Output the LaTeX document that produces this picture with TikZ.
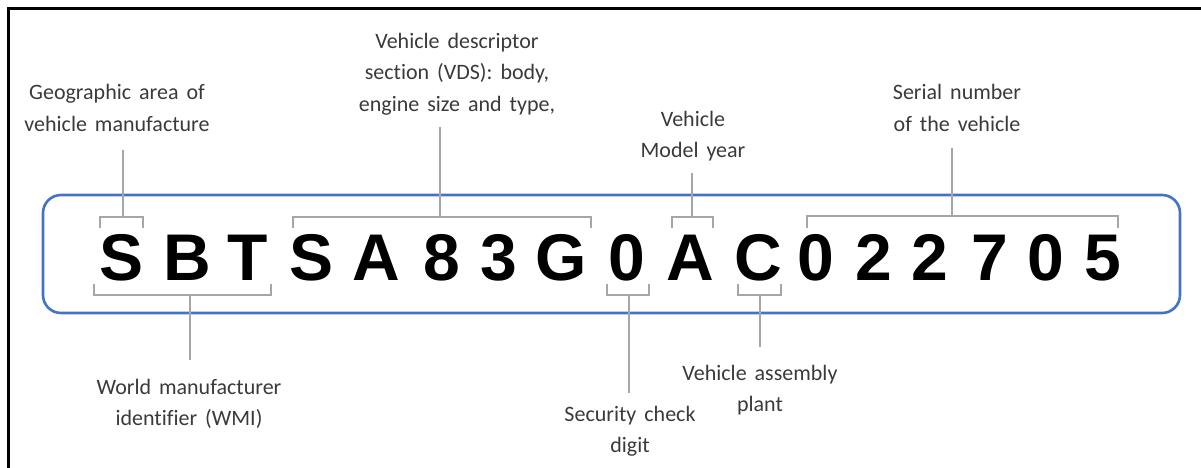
\documentclass[tikz,border=0pt]{standalone}
\usepackage{fontspec}
\setmainfont{Carlito}[WordSpace=1.6,Ligatures=NoCommon]
\newfontfamily\vinfont{Liberation Sans}
\definecolor{boxblue}{HTML}{4472C4}
\definecolor{brkgray}{HTML}{A6A6A6}
\definecolor{labgray}{HTML}{3A3A3A}
\begin{document}
\begin{tikzpicture}[x=1pt,y=-1pt,
  vin/.style={font=\vinfont\bfseries\fontsize{66}{66}\selectfont, anchor=base, inner sep=0pt},
  lab/.style={font=\fontsize{22}{31.5}\selectfont, text=labgray, align=center, inner sep=0pt},
  brk/.style={draw=brkgray, line width=2.5pt},
  frame/.style={draw=black, line width=2.6pt},
  plate/.style={draw=boxblue, line width=2.6pt, rounded corners=18pt}]
\useasboundingbox (0,0) rectangle (1201,468);
% outer frame (left and top edges)
\coordinate (fBL) at (8.5,470);
\coordinate (fTL) at (8.5,8.5);
\coordinate (fTR) at (1203,8.5);
\draw[frame] (fBL) -- (fTL) -- (fTR);
% plate
\coordinate (pTL) at (43,195);
\coordinate (pBR) at (1180,313);
\draw[plate] (pTL) rectangle (pBR);
% VIN characters
\foreach \c/\x/\n in {S/121.5/c1, B/187/c2, T/247.5/c3, S/311.5/c4, A/376.5/c5, 8/441.5/c6, 3/498.5/c7, G/561/c8, 0/627/c9, A/690/c10, C/758.5/c11, 0/815.5/c12, 2/873.5/c13, 2/930/c14, 7/990/c15, 0/1045.5/c16, 5/1102.5/c17}
  \node[vin] (\n) at (\x,280) {\c};
% labels
\node[lab] (geo) at (117,108) {Geographic area of\\vehicle manufacture};
\node[lab] (vds) at (457,74) {Vehicle descriptor\\section (VDS): body,\\engine size and type,};
\node[lab] (year) at (693,136) {Vehicle\\Model year};
\node[lab] (serial) at (957,108) {Serial number\\of the vehicle};
\node[lab] (wmi) at (189,404) {World manufacturer\\identifier (WMI)};
\node[lab] (check) at (630,431) {Security check\\digit};
\node[lab] (plant) at (760,390) {Vehicle assembly\\plant};
% top brackets
\coordinate (geoT) at (123,150); \coordinate (geoM) at (123,217);
\draw[brk] (100,228) -- (100,217) -- (143,217) -- (143,228);
\draw[brk] (geoT) -- (geoM);
\coordinate (vdsT) at (440,127); \coordinate (vdsM) at (440,217);
\draw[brk] (293,228) -- (293,217) -- (591,217) -- (591,228);
\draw[brk] (vdsT) -- (vdsM);
\coordinate (yearT) at (692,173); \coordinate (yearM) at (692,217);
\draw[brk] (672,228) -- (672,217) -- (713,217) -- (713,228);
\draw[brk] (yearT) -- (yearM);
\coordinate (serialT) at (952,148); \coordinate (serialM) at (952,216);
\draw[brk] (807,228) -- (807,216) -- (1118,216) -- (1118,228);
\draw[brk] (serialT) -- (serialM);
% bottom brackets
\coordinate (wmiM) at (190,295); \coordinate (wmiB) at (190,360);
\draw[brk] (94,284) -- (94,295) -- (271,295) -- (271,284);
\draw[brk] (wmiM) -- (wmiB);
\coordinate (checkM) at (629,295); \coordinate (checkB) at (629,393);
\draw[brk] (607,284) -- (607,295) -- (649,295) -- (649,284);
\draw[brk] (checkM) -- (checkB);
\coordinate (plantM) at (760,295); \coordinate (plantB) at (760,347);
\draw[brk] (738,284) -- (738,295) -- (781,295) -- (781,284);
\draw[brk] (plantM) -- (plantB);
\end{tikzpicture}
\end{document}
